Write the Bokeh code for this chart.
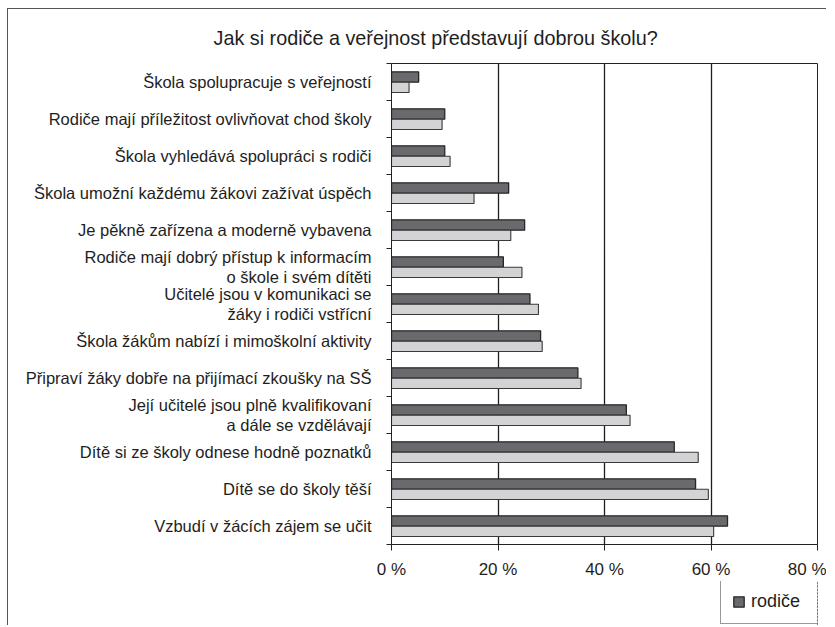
import numpy as np
from bokeh.plotting import figure
from bokeh.layouts import column
from bokeh.models import Range1d, FixedTicker, Legend, LegendItem, ColumnDataSource
from bokeh.embed import file_html
from bokeh.resources import INLINE

title_text = "Jak si rodiče a veřejnost představují dobrou školu?"

categories = [
    "Škola spolupracuje s veřejností",
    "Rodiče mají příležitost ovlivňovat chod školy",
    "Škola vyhledává spolupráci s rodiči",
    "Škola umožní každému žákovi zažívat úspěch",
    "Je pěkně zařízena a moderně vybavena",
    "Rodiče mají dobrý přístup k informacím\no škole i svém dítěti",
    "Učitelé jsou v komunikaci se\nžáky i rodiči vstřícní",
    "Škola žákům nabízí i mimoškolní aktivity",
    "Připraví žáky dobře na přijímací zkoušky na SŠ",
    "Její učitelé jsou plně kvalifikovaní\na dále se vzdělávají",
    "Dítě si ze školy odnese hodně poznatků",
    "Dítě se do školy těší",
    "Vzbudí v žácích zájem se učit",
]
rodice = [5.1, 10.0, 10.0, 22.0, 25.0, 21.0, 26.0, 28.0, 35.0, 44.1, 53.1, 57.1, 63.1]
nerodic = [3.3, 9.5, 11.0, 15.5, 22.4, 24.5, 27.6, 28.3, 35.6, 44.8, 57.6, 59.5, 60.5]
series_names = ["rodiče", "nerodič"]
x_ticks = [0, 20, 40, 60, 80]
x_tick_labels = ["0 %", "20 %", "40 %", "60 %", "80 %"]

FONT = "Liberation Sans"
TXT = "#1e1e1e"
DARK = dict(fill_color="#6a6a6e", line_color="#262626", line_width=1.3)
LIGHT = dict(fill_color="#d3d3d5", line_color="#3a3a3a", line_width=1.1)

n = len(categories)
centers = np.arange(n) + 0.5
bounds = list(np.arange(n + 1).astype(float))

src = ColumnDataSource(dict(
    y_r=centers - 0.135,
    y_n=centers + 0.145,
    r=rodice,
    nr=nerodic,
))

p = figure(frame_width=426, frame_height=481, output_backend="svg", toolbar_location=None,
           x_range=Range1d(0, 80), y_range=Range1d(n, 0),
           min_border_left=383, min_border_right=9,
           min_border_top=54, min_border_bottom=37,
           title=title_text)

p.hbar(y="y_r", left=0, right="r", height=0.28, source=src, **DARK)
p.hbar(y="y_n", left=0, right="nr", height=0.28, source=src, **LIGHT)

# title
p.title.align = "left"
p.title.offset = -178
p.title.standoff = 29
p.title.text_font = FONT
p.title.text_font_size = "19.8px"
p.title.text_font_style = "normal"
p.title.text_color = TXT

p.outline_line_color = "#222222"
p.outline_line_width = 1
p.background_fill_color = "white"
p.border_fill_color = "white"

# grid
p.ygrid.visible = False
p.xgrid.ticker = FixedTicker(ticks=[20, 40, 60])
p.xgrid.grid_line_color = "#1e1e1e"
p.xgrid.grid_line_width = 1.3

# x axis
xa = p.xaxis[0]
xa.ticker = FixedTicker(ticks=x_ticks)
xa.major_label_overrides = dict(zip(x_ticks, x_tick_labels))
xa.major_tick_out = 6
xa.major_tick_in = 0
xa.minor_tick_line_color = None
xa.axis_line_color = "#222222"
xa.major_tick_line_color = "#222222"
xa.major_label_text_font = FONT
xa.major_label_text_font_size = "17px"
xa.major_label_text_color = TXT
xa.major_label_standoff = 9

# y axis
ya = p.yaxis[0]
ya.ticker = FixedTicker(ticks=list(centers), minor_ticks=bounds)
ya.major_label_overrides = {float(c): lab for c, lab in zip(centers, categories)}
ya.major_tick_line_color = None
ya.major_tick_out = 0
ya.major_tick_in = 0
ya.minor_tick_out = 5
ya.minor_tick_in = 0
ya.minor_tick_line_color = "#222222"
ya.axis_line_color = "#222222"
ya.major_label_text_font = FONT
ya.major_label_text_font_size = "16.5px"
ya.major_label_text_color = TXT
ya.major_label_text_line_height = 1.15
ya.major_label_standoff = 15

# legend strip below the chart (same series styles; bars lie outside its view)
lf = figure(width=818, height=44, output_backend="svg", toolbar_location=None,
            x_axis_location=None, y_axis_location=None,
            x_range=Range1d(-10, -5), y_range=Range1d(n, 0),
            min_border_left=0, min_border_right=0, min_border_top=0, min_border_bottom=0)
lf.outline_line_color = None
lf.xgrid.visible = False
lf.ygrid.visible = False
lf.background_fill_color = "white"
lf.border_fill_color = "white"
lr1 = lf.hbar(y="y_r", left=0, right="r", height=0.28, source=src, **DARK)
lr2 = lf.hbar(y="y_n", left=0, right="nr", height=0.28, source=src, **LIGHT)

legend = Legend(items=[LegendItem(label=series_names[0], renderers=[lr1]),
                       LegendItem(label=series_names[1], renderers=[lr2])],
                location=(329, 1), orientation="horizontal",
                glyph_width=13, glyph_height=13, label_height=20,
                label_text_font=FONT, label_text_font_size="18px",
                label_text_color=TXT, label_standoff=6, spacing=32,
                padding=11, margin=0,
                border_line_color="#333333", border_line_width=1,
                background_fill_color="white", background_fill_alpha=1)
lf.add_layout(legend)

layout = column(p, lf, spacing=0)
layout.styles = {"margin-left": "7px", "margin-top": "8px",
                 "border-left": "1px solid #555", "border-top": "1px solid #555"}

open("out.html", "w").write(file_html(layout, INLINE))
